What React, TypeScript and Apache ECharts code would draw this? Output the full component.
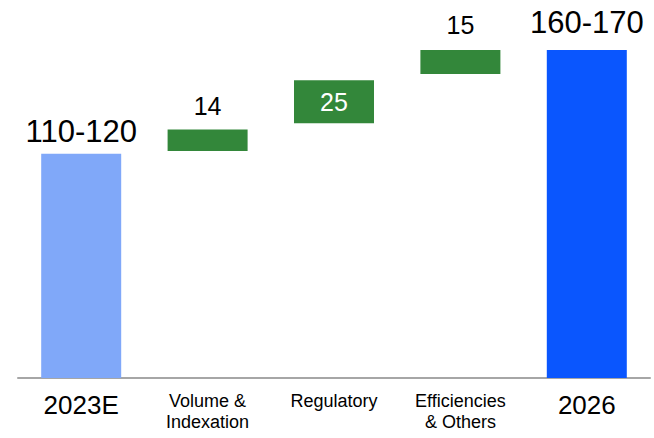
import React, { useEffect, useRef } from "react";
import * as echarts from "echarts";

const categories = ["2023E", "Volume &\nIndexation", "Regulatory", "Efficiencies\n& Others", "2026"];
const barStarts = [0, 116.4, 130.6, 155.9, 0];
const barEnds = [115, 127.5, 152.7, 168.2, 168.2];
const valueLabels = ["110-120", "14", "25", "15", "160-170"];
const barKinds = ["total", "increase", "increase", "increase", "total2"];

const COLORS: Record<string, string> = {
  total: "#80a8f9",
  increase: "#33873a",
  total2: "#0a56fe",
};

const FONT = "'Liberation Sans', Arial, sans-serif";

export default function App() {
  const ref = useRef<HTMLDivElement>(null);

  useEffect(() => {
    document.body.style.margin = "0";
    if (!ref.current) return;
    const chart = echarts.init(ref.current, undefined, { renderer: "svg" });

    const labelCfg = (i: number) => {
      const kind = barKinds[i];
      const big = kind !== "increase";
      const inside = valueLabels[i] === "25";
      const distances = [7, 10.5, 0, 12.5, 12];
      return {
        show: true,
        position: inside ? "inside" : "top",
        distance: distances[i],
        formatter: valueLabels[i],
        color: inside ? "#ffffff" : "#000000",
        fontSize: big ? 31 : 25,
        fontFamily: FONT,
        lineHeight: big ? 31 : 25,
      };
    };

    const option = {
      animation: false,
      grid: { left: 18, right: 4, top: 27, bottom: 60 },
      xAxis: {
        type: "category",
        data: categories,
        axisLine: { show: true, lineStyle: { color: "#a6a6a6", width: 2 } },
        axisTick: { show: false },
        axisLabel: {
          margin: 12,
          interval: 0,
          fontFamily: FONT,
          formatter: (v: string, i: number) => {
            const kind = barKinds[i];
            if (kind !== "increase") return `{big|${v}}`;
            return v
              .split("\n")
              .map((s) => `{small|${s}}`)
              .join("\n");
          },
          rich: {
            big: { fontSize: 26, lineHeight: 30, color: "#000", fontFamily: FONT },
            small: { fontSize: 18, lineHeight: 21, color: "#000", fontFamily: FONT },
          },
        },
      },
      yAxis: {
        type: "value",
        min: 0,
        max: 180,
        show: false,
        splitLine: { show: false },
      },
      series: [
        {
          name: "base",
          type: "bar",
          stack: "wf",
          barWidth: 80,
          silent: true,
          itemStyle: { color: "transparent" },
          data: barStarts,
        },
        {
          name: "value",
          type: "bar",
          stack: "wf",
          barWidth: 80,
          data: barEnds.map((e, i) => ({
            value: +(e - barStarts[i]).toFixed(2),
            itemStyle: { color: COLORS[barKinds[i]] },
            label: labelCfg(i),
          })),
        },
      ],
    };

    chart.setOption(option as any);
    return () => chart.dispose();
  }, []);

  return <div ref={ref} style={{ width: 654, height: 438 }} />;
}
